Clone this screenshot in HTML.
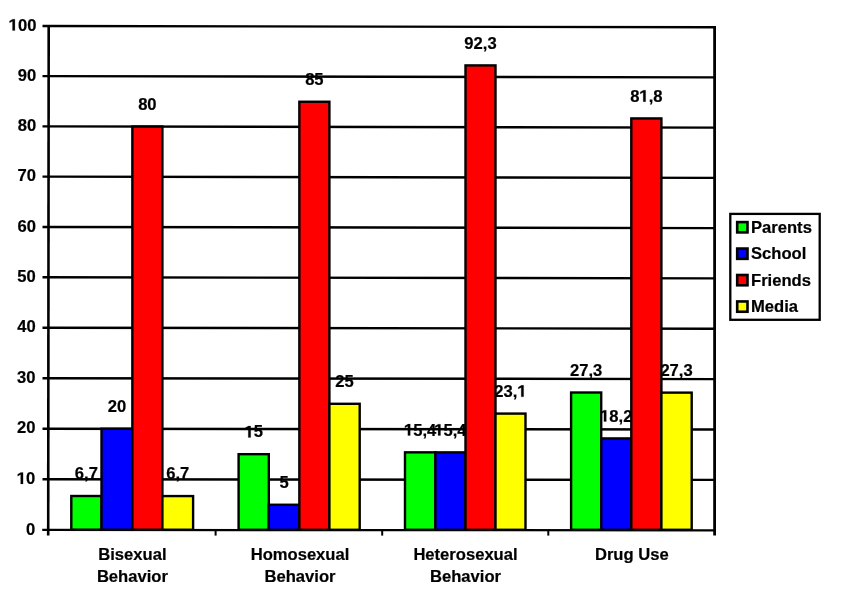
<!DOCTYPE html><html><head><meta charset="utf-8"><style>html,body{margin:0;padding:0;background:#fff;width:848px;height:590px;overflow:hidden}svg{display:block;will-change:transform}text{font-family:"Liberation Sans",sans-serif;font-weight:bold;font-size:16.6px;fill:#000;stroke:#000;stroke-width:0.2px}.h{fill:none;stroke:none}</style></head><body>
<svg width="848" height="590" viewBox="0 0 848 590">
<line x1="42.5" y1="479.28" x2="714.60" y2="479.86" stroke="#000" stroke-width="2.4"/>
<line x1="42.5" y1="428.70" x2="714.60" y2="429.46" stroke="#000" stroke-width="2.4"/>
<line x1="42.5" y1="378.18" x2="714.60" y2="379.08" stroke="#000" stroke-width="2.4"/>
<line x1="42.5" y1="327.72" x2="714.60" y2="328.72" stroke="#000" stroke-width="2.4"/>
<line x1="42.5" y1="277.30" x2="714.60" y2="278.40" stroke="#000" stroke-width="2.4"/>
<line x1="42.5" y1="226.94" x2="714.60" y2="228.10" stroke="#000" stroke-width="2.4"/>
<line x1="42.5" y1="176.62" x2="714.60" y2="177.84" stroke="#000" stroke-width="2.4"/>
<line x1="42.5" y1="126.36" x2="714.60" y2="127.60" stroke="#000" stroke-width="2.4"/>
<line x1="42.5" y1="76.16" x2="714.60" y2="77.38" stroke="#000" stroke-width="2.4"/>
<line x1="42.5" y1="26.00" x2="714.60" y2="27.20" stroke="#000" stroke-width="2.4"/>
<text x="35.20" y="534.50" text-anchor="end">0</text>
<text x="35.32" y="483.88" text-anchor="end"><tspan class="h">1</tspan>0</text><path d="M470,0L470,1150L105,955L105,1190L493,1409L767,1409L767,0Z" transform="translate(16.851 483.880) scale(0.008105 -0.008105)" fill="#000" stroke="#000" stroke-width="24.7"/>
<text x="35.44" y="433.30" text-anchor="end">20</text>
<text x="35.56" y="382.78" text-anchor="end">30</text>
<text x="35.68" y="332.32" text-anchor="end">40</text>
<text x="35.80" y="281.90" text-anchor="end">50</text>
<text x="35.92" y="231.54" text-anchor="end">60</text>
<text x="36.04" y="181.22" text-anchor="end">70</text>
<text x="36.16" y="130.96" text-anchor="end">80</text>
<text x="36.28" y="80.76" text-anchor="end">90</text>
<text x="36.40" y="30.60" text-anchor="end"><tspan class="h">1</tspan>00</text><path d="M470,0L470,1150L105,955L105,1190L493,1409L767,1409L767,0Z" transform="translate(8.697 30.600) scale(0.008105 -0.008105)" fill="#000" stroke="#000" stroke-width="24.7"/>
<text x="86.40" y="479.21" text-anchor="middle">6,7</text>
<text x="116.92" y="411.98" text-anchor="middle">20</text>
<text x="147.38" y="109.75" text-anchor="middle">80</text>
<text x="177.75" y="479.28" text-anchor="middle">6,7</text>
<text x="253.70" y="437.39" text-anchor="middle"><tspan class="h">1</tspan>5</text><path d="M470,0L470,1150L105,955L105,1190L493,1409L767,1409L767,0Z" transform="translate(244.466 437.390) scale(0.008105 -0.008105)" fill="#000" stroke="#000" stroke-width="24.7"/>
<text x="284.08" y="487.96" text-anchor="middle">5</text>
<text x="314.38" y="84.95" text-anchor="middle">85</text>
<text x="344.55" y="387.00" text-anchor="middle">25</text>
<text x="420.20" y="435.54" text-anchor="middle"><tspan class="h">1</tspan>5,4</text><path d="M470,0L470,1150L105,955L105,1190L493,1409L767,1409L767,0Z" transform="translate(404.044 435.540) scale(0.008105 -0.008105)" fill="#000" stroke="#000" stroke-width="24.7"/>
<text x="450.45" y="435.57" text-anchor="middle"><tspan class="h">1</tspan>5,4</text><path d="M470,0L470,1150L105,955L105,1190L493,1409L767,1409L767,0Z" transform="translate(434.294 435.570) scale(0.008105 -0.008105)" fill="#000" stroke="#000" stroke-width="24.7"/>
<text x="480.50" y="48.61" text-anchor="middle">92,3</text>
<text x="510.50" y="396.79" text-anchor="middle">23,<tspan class="h">1</tspan></text><path d="M470,0L470,1150L105,955L105,1190L493,1409L767,1409L767,0Z" transform="translate(517.422 396.790) scale(0.008105 -0.008105)" fill="#000" stroke="#000" stroke-width="24.7"/>
<text x="586.15" y="375.71" text-anchor="middle">27,3</text>
<text x="616.25" y="421.62" text-anchor="middle"><tspan class="h">1</tspan>8,2</text><path d="M470,0L470,1150L105,955L105,1190L493,1409L767,1409L767,0Z" transform="translate(600.094 421.620) scale(0.008105 -0.008105)" fill="#000" stroke="#000" stroke-width="24.7"/>
<text x="646.35" y="101.63" text-anchor="middle">8<tspan class="h">1</tspan>,8</text><path d="M470,0L470,1150L105,955L105,1190L493,1409L767,1409L767,0Z" transform="translate(639.428 101.630) scale(0.008105 -0.008105)" fill="#000" stroke="#000" stroke-width="24.7"/>
<text x="676.55" y="375.83" text-anchor="middle">27,3</text>
<rect x="71.30" y="496.01" width="30.20" height="33.79" fill="#00ff00" stroke="#000" stroke-width="2.40"/>
<rect x="101.50" y="428.78" width="30.85" height="101.02" fill="#0000ff" stroke="#000" stroke-width="2.40"/>
<rect x="132.35" y="126.55" width="30.05" height="403.25" fill="#ff0000" stroke="#000" stroke-width="2.40"/>
<rect x="162.40" y="496.08" width="30.70" height="33.72" fill="#ffff00" stroke="#000" stroke-width="2.40"/>
<rect x="238.60" y="454.19" width="30.20" height="75.61" fill="#00ff00" stroke="#000" stroke-width="2.40"/>
<rect x="268.80" y="504.76" width="30.55" height="25.04" fill="#0000ff" stroke="#000" stroke-width="2.40"/>
<rect x="299.35" y="101.75" width="30.05" height="428.05" fill="#ff0000" stroke="#000" stroke-width="2.40"/>
<rect x="329.40" y="403.80" width="30.30" height="126.00" fill="#ffff00" stroke="#000" stroke-width="2.40"/>
<rect x="405.00" y="452.34" width="30.40" height="77.46" fill="#00ff00" stroke="#000" stroke-width="2.40"/>
<rect x="435.40" y="452.37" width="30.10" height="77.43" fill="#0000ff" stroke="#000" stroke-width="2.40"/>
<rect x="465.50" y="65.41" width="30.00" height="464.39" fill="#ff0000" stroke="#000" stroke-width="2.40"/>
<rect x="495.50" y="413.59" width="30.00" height="116.21" fill="#ffff00" stroke="#000" stroke-width="2.40"/>
<rect x="571.10" y="392.51" width="30.10" height="137.29" fill="#00ff00" stroke="#000" stroke-width="2.40"/>
<rect x="601.20" y="438.42" width="30.10" height="91.38" fill="#0000ff" stroke="#000" stroke-width="2.40"/>
<rect x="631.30" y="118.43" width="30.10" height="411.37" fill="#ff0000" stroke="#000" stroke-width="2.40"/>
<rect x="661.40" y="392.63" width="30.30" height="137.17" fill="#ffff00" stroke="#000" stroke-width="2.40"/>
<line x1="42.2" y1="529.90" x2="716.00" y2="530.30" stroke="#000" stroke-width="2.2"/>
<line x1="48.7" y1="24.9" x2="48.2" y2="535.6" stroke="#000" stroke-width="2.6"/>
<line x1="714.60" y1="26" x2="714.60" y2="535.6" stroke="#000" stroke-width="2.8"/>
<line x1="215.60" y1="529.80" x2="215.60" y2="535.6" stroke="#000" stroke-width="2"/>
<line x1="382.20" y1="529.80" x2="382.20" y2="535.6" stroke="#000" stroke-width="2"/>
<line x1="548.30" y1="529.80" x2="548.30" y2="535.6" stroke="#000" stroke-width="2"/>
<text x="132.40" y="560.00" text-anchor="middle">Bisexual</text>
<text x="132.40" y="581.70" text-anchor="middle">Behavior</text>
<text x="300.00" y="560.00" text-anchor="middle">Homosexual</text>
<text x="300.00" y="581.70" text-anchor="middle">Behavior</text>
<text x="465.50" y="560.00" text-anchor="middle">Heterosexual</text>
<text x="465.50" y="581.70" text-anchor="middle">Behavior</text>
<text x="631.80" y="560.00" text-anchor="middle">Drug Use</text>
<rect x="730.3" y="213.9" width="89.4" height="105.9" fill="#fff" stroke="#000" stroke-width="2.3"/>
<rect x="737.2" y="222.10" width="10.3" height="10.3" fill="#00ff00" stroke="#000" stroke-width="2.6"/>
<text x="751.00" y="232.80">Parents</text>
<rect x="737.2" y="248.55" width="10.3" height="10.3" fill="#0000ff" stroke="#000" stroke-width="2.6"/>
<text x="751.00" y="259.25">School</text>
<rect x="737.2" y="275.00" width="10.3" height="10.3" fill="#ff0000" stroke="#000" stroke-width="2.6"/>
<text x="751.00" y="285.70">Friends</text>
<rect x="737.2" y="301.45" width="10.3" height="10.3" fill="#ffff00" stroke="#000" stroke-width="2.6"/>
<text x="751.00" y="312.15">Media</text>
</svg></body></html>
